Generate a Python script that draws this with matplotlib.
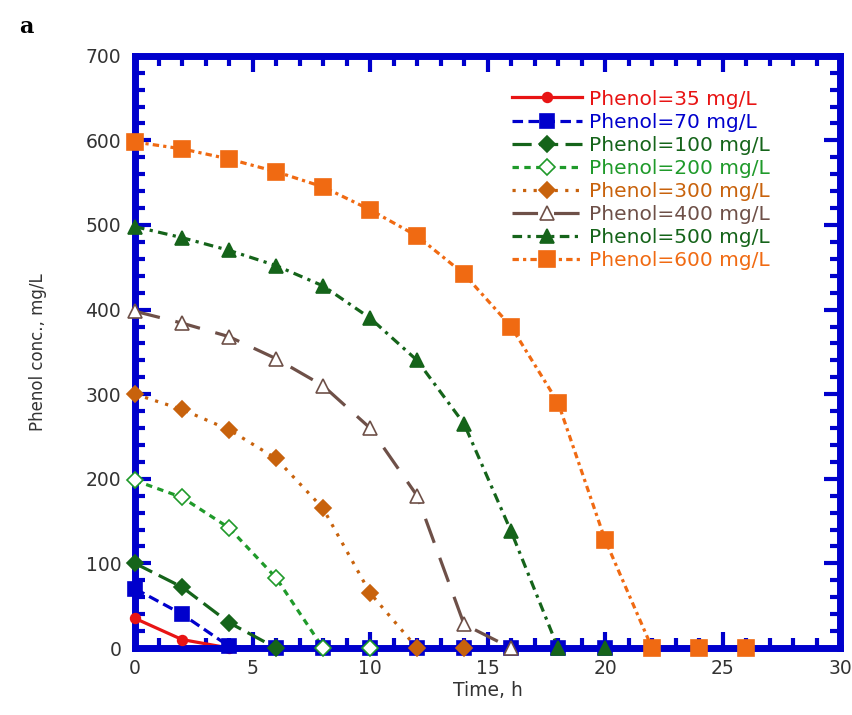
import matplotlib
matplotlib.use("Agg")
import matplotlib.pyplot as plt
from matplotlib.lines import Line2D
from matplotlib.ticker import MultipleLocator

# time points (h), every 2 h
t = [0, 2, 4, 6, 8, 10, 12, 14, 16, 18, 20, 22, 24, 26]

labels = [
    "Phenol=35 mg/L",
    "Phenol=70 mg/L",
    "Phenol=100 mg/L",
    "Phenol=200 mg/L",
    "Phenol=300 mg/L",
    "Phenol=400 mg/L",
    "Phenol=500 mg/L",
    "Phenol=600 mg/L",
]

c35 = [35, 10, 0]
c70 = [70, 40, 2, 0, 0, 0, 0, 0, 0, 0, 0]
c100 = [100, 72, 30, 0]
c200 = [198, 178, 142, 83, 0, 0]
c300 = [300, 282, 258, 224, 165, 65, 0, 0]
c400 = [398, 384, 368, 342, 310, 260, 180, 28, 0]
c500 = [498, 485, 470, 452, 428, 390, 340, 265, 138, 0, 0, 0, 0, 0]
c600 = [598, 590, 578, 563, 545, 518, 487, 442, 380, 290, 128, 0, 0, 0]

series = [c35, c70, c100, c200, c300, c400, c500, c600]

colors = ["#e81414", "#0000cc", "#15641a", "#1f9a2a",
          "#c8620c", "#6e5048", "#15641a", "#f06a12"]
styles = ["-", (0, (3.3, 1.7)), (0, (6, 2.3)), (0, (2, 1.7)),
          (0, (1, 2.3)), (0, (8, 5)), (0, (3, 1.7, 1, 1.7)),
          (0, (2, 1.3, 1, 1.3))]
markers = ["o", "s", "D", "D", "D", "^", "^", "s"]
msizes = [7, 10, 8, 8, 8, 9.5, 9.5, 11]
faces = ["#e81414", "#0000cc", "#15641a", "white",
         "#c8620c", "white", "#15641a", "#f06a12"]

frame = "#0000cc"

fig, ax = plt.subplots(figsize=(8.52, 7.15), dpi=100)
fig.subplots_adjust(left=0.1585, right=0.986, bottom=0.0937, top=0.922)

handles = []
for y, col, ls, mk, ms, fc, lab in zip(series, colors, styles, markers,
                                        msizes, faces, labels):
    x = t[:len(y)]
    ax.plot(x, y, color=col, linestyle=ls, linewidth=2.3, zorder=2)
    ax.plot(x, y, color=col, linestyle="none", marker=mk, markersize=ms,
            markerfacecolor=fc, markeredgecolor=col, markeredgewidth=1.2,
            clip_on=False, zorder=3)
    handles.append(Line2D([0], [0], color=col, linestyle=ls, linewidth=2.3,
                          marker=mk, markersize=ms, markerfacecolor=fc,
                          markeredgecolor=col, markeredgewidth=1.2))

ax.set_xlim(0, 30)
ax.set_ylim(0, 700)
ax.xaxis.set_major_locator(MultipleLocator(5))
ax.xaxis.set_minor_locator(MultipleLocator(1))
ax.yaxis.set_major_locator(MultipleLocator(100))
ax.yaxis.set_minor_locator(MultipleLocator(20))

for s in ax.spines.values():
    s.set_color(frame)
    s.set_linewidth(5)

ax.tick_params(which="both", direction="in", top=True, right=True,
               color=frame, width=3, labelcolor="#333333", labelsize=13.5)
ax.tick_params(which="major", length=11.5)
ax.tick_params(which="minor", length=7)
ax.tick_params(axis="y", pad=10)
ax.tick_params(axis="x", pad=8)

ax.set_xlabel("Time, h", fontsize=13.5, color="#333333")
ax.set_ylabel("Phenol conc., mg/L", fontsize=12, color="#333333")
ax.xaxis.set_label_coords(0.5, -0.055)
ax.yaxis.set_label_coords(-0.125, 0.5)

ax.legend(handles, labels, frameon=False, loc="upper left",
          bbox_to_anchor=(0.52, 0.96), borderpad=0, fontsize=14.5,
          handlelength=3.5, handletextpad=0.35, labelspacing=0.2,
          numpoints=1, labelcolor="linecolor")

fig.text(0.022, 0.962, "a", fontsize=16, fontweight="bold",
         family="DejaVu Serif", va="center")

fig.savefig("out.png", dpi=100)
